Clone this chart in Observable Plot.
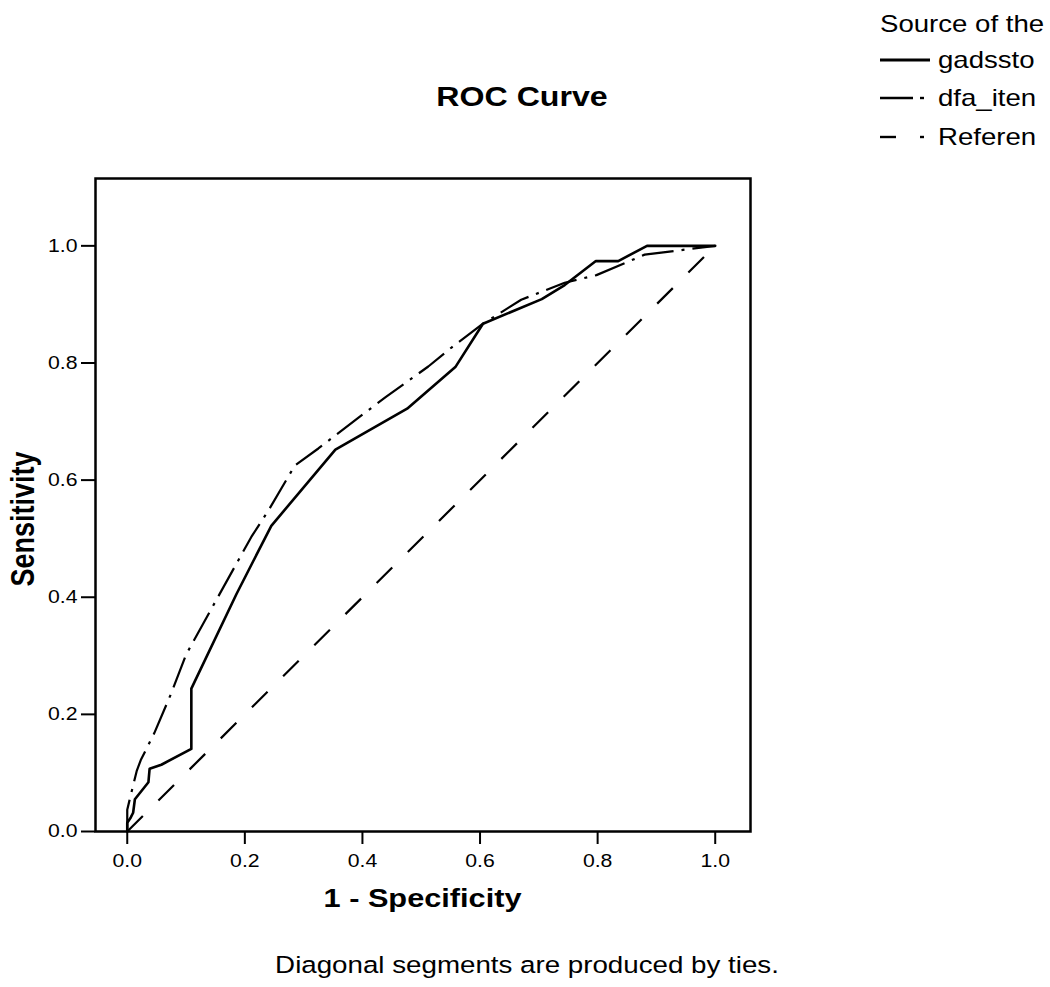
<!DOCTYPE html>
<html><head><meta charset="utf-8">
<script src="https://cdn.jsdelivr.net/npm/d3@7"></script>
<script src="https://cdn.jsdelivr.net/npm/@observablehq/plot@0.6"></script>
<style>
body{margin:0;background:#fff;}
#wrap{position:relative;width:1050px;height:987px;overflow:hidden;background:#fff;}
#wrap svg{position:absolute;left:0;top:0;}
</style></head><body><div id="wrap"></div>
<script>
// ---- data ----
const titleText = "ROC Curve";
const xLabelText = "1 - Specificity";
const yLabelText = "Sensitivity";
const captionText = "Diagonal segments are produced by ties.";
const legendTitle = "Source of the";
const seriesNames = ["gadssto", "dfa_iten", "Referen"];

const gadsstoX = [0, 0, 0.006, 0.010, 0.013, 0.036, 0.038, 0.058, 0.109, 0.109, 0.186, 0.245, 0.354, 0.476, 0.558, 0.605, 0.705, 0.744, 0.797, 0.835, 0.884, 1.0];
const gadsstoY = [0, 0.015, 0.024, 0.032, 0.055, 0.084, 0.107, 0.114, 0.141, 0.244, 0.406, 0.522, 0.652, 0.722, 0.793, 0.867, 0.909, 0.933, 0.974, 0.974, 1.0, 1.0];

const dfaX = [0, 0, 0.004, 0.016, 0.023, 0.046, 0.074, 0.100, 0.143, 0.211, 0.240, 0.285, 0.325, 0.395, 0.440, 0.512, 0.551, 0.605, 0.670, 0.744, 0.798, 0.880, 1.0];
const dfaY = [0, 0.037, 0.054, 0.103, 0.122, 0.168, 0.234, 0.302, 0.380, 0.503, 0.548, 0.625, 0.654, 0.708, 0.742, 0.794, 0.826, 0.867, 0.908, 0.937, 0.950, 0.985, 1.0];

const refX = [0, 1];
const refY = [0, 1];

const tickValues = [0, 0.2, 0.4, 0.6, 0.8, 1.0];
const tickLabels = ["0.0", "0.2", "0.4", "0.6", "0.8", "1.0"];

// ---- build tables ----
const rows = (xs, ys, name) => xs.map((x, i) => ({x, y: ys[i], series: name}));
const gRows = rows(gadsstoX, gadsstoY, seriesNames[0]);
const dRows = rows(dfaX, dfaY, seriesNames[1]);
const rRows = rows(refX, refY, seriesNames[2]);

const dashes = {gadssto: null, dfa_iten: "32,8,3,8", Referen: "22,22"};
const widths = {gadssto: 2.6, dfa_iten: 2.2, Referen: 2.2};
const FONT = '"Liberation Sans", Arial, Helvetica, sans-serif';
const fmt = d => tickLabels[tickValues.indexOf(d)];

const W = 1050, H = 987;
const chart = Plot.plot({
  width: W, height: H,
  marginLeft: 95, marginRight: 300, marginTop: 178, marginBottom: 156,
  style: {fontFamily: FONT, fontSize: "18px", color: "black", background: "white"},
  x: {domain: [-0.054, 1.06]},
  y: {domain: [0, 1.115]},
  marks: [
    Plot.axisX({ticks: tickValues, tickFormat: fmt, tickSize: 13, tickPadding: 10, strokeWidth: 2, label: null, fontSize: 18}),
    Plot.axisY({ticks: tickValues, tickFormat: fmt, tickSize: 14, tickPadding: 4, strokeWidth: 2, label: null, fontSize: 18}),
    Plot.line(rRows, {x: "x", y: "y", stroke: "black", strokeWidth: widths.Referen, strokeDasharray: dashes.Referen, strokeLinecap: "butt"}),
    Plot.line(dRows, {x: "x", y: "y", stroke: "black", strokeWidth: widths.dfa_iten, strokeDasharray: dashes.dfa_iten, strokeLinecap: "butt"}),
    Plot.line(gRows, {x: "x", y: "y", stroke: "black", strokeWidth: widths.gadssto}),
    Plot.frame({stroke: "black", strokeWidth: 2.5})
  ]
});
document.getElementById("wrap").appendChild(chart);

// stretch tick labels horizontally like the reference scan
chart.querySelectorAll('g[aria-label$="tick label"] text').forEach(t => {
  const tr = t.getAttribute("transform") || "";
  t.setAttribute("transform", tr + " scale(1.18,1)");
});

// ---- overlay texts: title, axis labels, caption, legend ----
const ov = d3.select("#wrap").append("svg")
  .attr("width", W).attr("height", H)
  .style("pointer-events", "none")
  .attr("font-family", FONT);

ov.append("text").text(titleText)
  .attr("transform", "translate(522,106) scale(1.19,1)")
  .attr("text-anchor", "middle").attr("font-weight", "bold").attr("font-size", 27);

ov.append("text").text(xLabelText)
  .attr("transform", "translate(422.5,906.5) scale(1.2,1)")
  .attr("text-anchor", "middle").attr("font-weight", "bold").attr("font-size", 25.6);

ov.append("text").text(yLabelText)
  .attr("transform", "translate(34,519) rotate(-90) scale(1,1.2)")
  .attr("text-anchor", "middle").attr("font-weight", "bold").attr("font-size", 27);

ov.append("text").text(captionText)
  .attr("transform", "translate(527,973) scale(1.18,1)")
  .attr("text-anchor", "middle").attr("font-size", 23.5);

// legend
ov.append("text").text(legendTitle)
  .attr("transform", "translate(880,32) scale(1.2,1)")
  .attr("font-size", 23);
const legendRows = [
  {name: seriesNames[0], swatch: [[880, 930]], ly: 60, ty: 68},
  {name: seriesNames[1], swatch: [[880, 913], [920, 924]], ly: 98, ty: 106},
  {name: seriesNames[2], swatch: [[880, 896], [920, 924]], ly: 137, ty: 145}
];
legendRows.forEach(r => {
  r.swatch.forEach(([a, b]) => {
    ov.append("line").attr("x1", a).attr("x2", b).attr("y1", r.ly).attr("y2", r.ly)
      .attr("stroke", "black").attr("stroke-width", r.name === "gadssto" ? 2.8 : 2.4);
  });
  ov.append("text").text(r.name)
    .attr("transform", `translate(938,${r.ty}) scale(1.2,1)`)
    .attr("font-size", 23);
});
</script></body></html>
